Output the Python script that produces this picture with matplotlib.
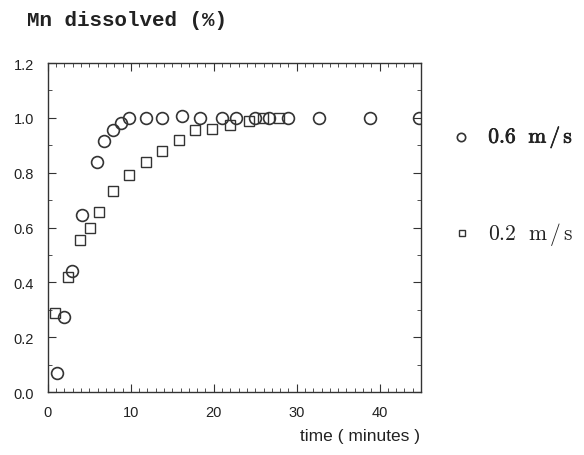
import matplotlib.pyplot as plt
import matplotlib.patheffects as pe
from matplotlib.ticker import MultipleLocator

plt.rcParams['mathtext.fontset'] = 'cm'

# 0.6 m/s series
t_fast = [1.1, 2.0, 2.9, 4.1, 5.9, 6.8, 7.8, 8.8, 9.8, 11.8, 13.8, 16.2, 18.3,
          21.0, 22.7, 25.0, 26.7, 28.9, 32.7, 38.8, 44.8]
mn_fast = [0.07, 0.275, 0.44, 0.645, 0.84, 0.915, 0.955, 0.98, 1.0, 1.0, 1.0, 1.007, 1.0,
           1.0, 1.0, 1.0, 1.0, 1.0, 1.0, 1.0, 1.0]

# 0.2 m/s series
t_slow = [0.8, 2.4, 3.9, 5.1, 6.2, 7.8, 9.8, 11.8, 13.8, 15.8, 17.8, 19.8,
          22.0, 24.2, 25.9, 27.9]
mn_slow = [0.29, 0.42, 0.555, 0.60, 0.655, 0.735, 0.79, 0.84, 0.88, 0.92, 0.955, 0.96,
           0.975, 0.99, 1.0, 1.0]

ink = '#333333'

fig = plt.figure(figsize=(5.84, 4.56), dpi=100)
ax = fig.add_axes([0.082, 0.138, 0.639, 0.7215])

ax.plot(t_fast, mn_fast, linestyle='none', marker='o', ms=8.5, mfc='none',
        mec=ink, mew=1.2)
ax.plot(t_slow, mn_slow, linestyle='none', marker='s', ms=7, mfc='none',
        mec=ink, mew=1.0)

ax.set_xlim(0, 45)
ax.set_ylim(0, 1.2)
ax.xaxis.set_major_locator(MultipleLocator(10))
ax.xaxis.set_minor_locator(MultipleLocator(1))
ax.yaxis.set_major_locator(MultipleLocator(0.2))
ax.yaxis.set_minor_locator(MultipleLocator(0.1))
ax.yaxis.set_major_formatter(plt.FormatStrFormatter('%.1f'))
ax.tick_params(which='both', direction='in', top=True, right=True, color=ink,
               labelsize=10.5, labelcolor='#222222', labelfontfamily='Liberation Sans')
ax.tick_params(which='major', length=6)
ax.tick_params(axis='y', which='major', pad=10)
ax.tick_params(axis='x', which='major', pad=9)
ax.tick_params(which='minor', length=3)
for s in ax.spines.values():
    s.set_color(ink)
    s.set_linewidth(1.0)

fig.text(0.046, 0.955, 'Mn dissolved (%)', fontsize=15, fontweight='bold',
         family='Liberation Mono', color='#222222', va='center')
fig.text(0.72, 0.042, 'time ( minutes )', fontsize=12.5, family='Liberation Sans',
         color='#222222', ha='right', va='center')

# legend-like labels on the right
ax.plot([0.789], [0.697], transform=fig.transFigure, marker='o', ms=6, mfc='none',
        mec=ink, mew=1.2, clip_on=False)
fig.text(0.836, 0.697, r'$\mathrm{0.6\ \ m\,/\,s}$', fontsize=15.5,
         color='#222222', va='center',
         path_effects=[pe.withStroke(linewidth=0.5, foreground='#222222')])
ax.plot([0.791], [0.486], transform=fig.transFigure, marker='s', ms=5, mfc='none',
        mec=ink, mew=1.0, clip_on=False)
fig.text(0.836, 0.486, r'$\mathrm{0.2\ \ m\,/\,s}$', fontsize=15.5,
         color='#222222', va='center')

fig.savefig('out.png', dpi=100)
plt.close(fig)
